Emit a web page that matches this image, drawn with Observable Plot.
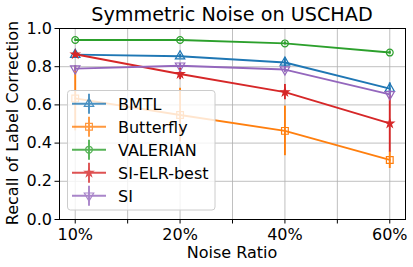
<!DOCTYPE html>
<html><head><meta charset="utf-8">
<script src="https://cdn.jsdelivr.net/npm/d3@7"></script>
<script src="https://cdn.jsdelivr.net/npm/@observablehq/plot@0.6"></script>
<style>
body{margin:0;background:#fff;font-family:"DejaVu Sans",sans-serif;}
#wrap{position:relative;width:413px;height:267px;}
</style></head><body><div id="wrap"></div>
<script>
const ratios = ["10%", "20%", "40%", "60%"];
const seriesNames = ["BMTL", "Butterfly", "VALERIAN", "SI-ELR-best", "SI"];
const bmtl = [0.863, 0.855, 0.822, 0.685];
const bmtlErr = [0.01, 0.01, 0.025, 0.03];
const butterfly = [0.634, 0.547, 0.464, 0.312];
const butterflyErr = [0.17, 0.14, 0.13, 0.045];
const valerian = [0.94, 0.94, 0.922, 0.874];
const valerianErr = [0.006, 0.006, 0.008, 0.008];
const siElr = [0.865, 0.762, 0.667, 0.503];
const siElrErr = [0.01, 0.03, 0.04, 0.15];
const si = [0.79, 0.805, 0.785, 0.655];
const siErr = [0.015, 0.012, 0.015, 0.02];
const colors = ["#1f77b4", "#ff7f0e", "#2ca02c", "#d62728", "#9467bd"];
const yTicks = [0, 0.2, 0.4, 0.6, 0.8, 1.0];

const triangleDown = {draw(ctx, size){const s=Math.sqrt(size/(Math.sqrt(3)/4)); const h=s*Math.sqrt(3)/2; ctx.moveTo(-s/2,-h/3); ctx.lineTo(s/2,-h/3); ctx.lineTo(0,2*h/3); ctx.closePath();}};
const triangleUp = {draw(ctx, size){const s=Math.sqrt(size/(Math.sqrt(3)/4)); const h=s*Math.sqrt(3)/2; ctx.moveTo(-s/2,h/3); ctx.lineTo(s/2,h/3); ctx.lineTo(0,-2*h/3); ctx.closePath();}};
const symbols = [triangleUp, "square", "circle", "star", triangleDown];
const filled = [false, false, false, true, false];
const radii = [3.5, 3.8, 3.4, 2.5, 3.5];

const means = [bmtl, butterfly, valerian, siElr, si];
const errs = [bmtlErr, butterflyErr, valerianErr, siElrErr, siErr];
const rows = [];
seriesNames.forEach((s, k) => ratios.forEach((r, i) => rows.push({series: s, k, i, v: means[k][i], e: errs[k][i]})));

const xTicks = [0, 0.5, 1, 1.5, 2, 2.5, 3];
const marks = [
  Plot.gridX(xTicks, {stroke: "#b0b0b0", strokeOpacity: 1, strokeWidth: 0.8}),
  Plot.gridY(yTicks, {stroke: "#b0b0b0", strokeOpacity: 1, strokeWidth: 0.8}),
  Plot.axisX(xTicks, {tickSize: 4.5, tickPadding: 5, fontSize: 16, tickFormat: d => Number.isInteger(d) ? ratios[d] : "", label: null}),
  Plot.axisY(yTicks, {tickSize: 4.5, tickPadding: 3, fontSize: 16, tickFormat: d => d.toFixed(1), label: null}),
];
seriesNames.forEach((s, k) => {
  const d = rows.filter(r => r.k === k);
  marks.push(Plot.line(d, {x: "i", y: "v", stroke: colors[k], strokeWidth: 1.9}));
  marks.push(Plot.ruleX(d, {x: "i", y1: r => r.v - r.e, y2: r => r.v + r.e, stroke: colors[k], strokeWidth: 1.9}));
  marks.push(Plot.dot(d, {x: "i", y: "v", symbol: () => symbols[k], r: radii[k], stroke: colors[k], fill: filled[k] ? colors[k] : "none", strokeWidth: 1.2}));
});
marks.push(Plot.frame({stroke: "black", strokeWidth: 1}));

const plot = Plot.plot({
  width: 413, height: 267,
  marginLeft: 59, marginRight: 8, marginTop: 28, marginBottom: 48,
  style: {fontFamily: "DejaVu Sans", fontSize: "16px", color: "#000", background: "#fff"},
  x: {type: "linear", domain: [-0.15, 3.15]},
  y: {domain: [0, 1]},
  symbol: {type: "identity"},
  marks
});
document.getElementById("wrap").appendChild(plot);

const svg = d3.select(plot);
const addText = (x, y, size, txt, anchor, transform) => {
  const t = svg.append("text").attr("text-anchor", anchor).attr("font-size", size).attr("font-family", "DejaVu Sans").attr("fill", "#000").text(txt);
  if (transform) t.attr("transform", transform); else t.attr("x", x).attr("y", y);
  return t;
};
addText(232, 21, 19.2, "Symmetric Noise on USCHAD", "middle");
addText(232, 258, 16, "Noise Ratio", "middle");
addText(0, 0, 16, "Recall of Label Correction", "middle", "translate(17.5,123) rotate(-90)");

// Legend
const lg = svg.append("g");
lg.append("rect").attr("x", 67.5).attr("y", 90.5).attr("width", 147.5).attr("height", 119.5).attr("rx", 3).attr("fill", "#fff").attr("fill-opacity", 0.8).attr("stroke", "#cccccc").attr("stroke-width", 1);
const symMap = {square: d3.symbolSquare, circle: d3.symbolCircle, star: d3.symbolStar};
seriesNames.forEach((s, k) => {
  const cy = 103.7 + k * 23;
  const g = lg.append("g").attr("opacity", 0.8);
  g.append("line").attr("x1", 72).attr("x2", 106).attr("y1", cy).attr("y2", cy).attr("stroke", colors[k]).attr("stroke-width", 1.9);
  g.append("line").attr("x1", 89).attr("x2", 89).attr("y1", cy - 10).attr("y2", cy + 10).attr("stroke", colors[k]).attr("stroke-width", 1.9);
  const sym = typeof symbols[k] === "string" ? symMap[symbols[k]] : symbols[k];
  g.append("path").attr("d", d3.symbol(sym, radii[k] * radii[k] * Math.PI)()).attr("transform", `translate(89,${cy})`).attr("fill", filled[k] ? colors[k] : "none").attr("stroke", colors[k]).attr("stroke-width", 1.2);
  lg.append("text").attr("x", 118).attr("y", cy + 5.8).attr("text-anchor", "start").attr("font-size", 16).attr("font-family", "DejaVu Sans").attr("fill", "#000").text(s);
});
</script></body></html>
